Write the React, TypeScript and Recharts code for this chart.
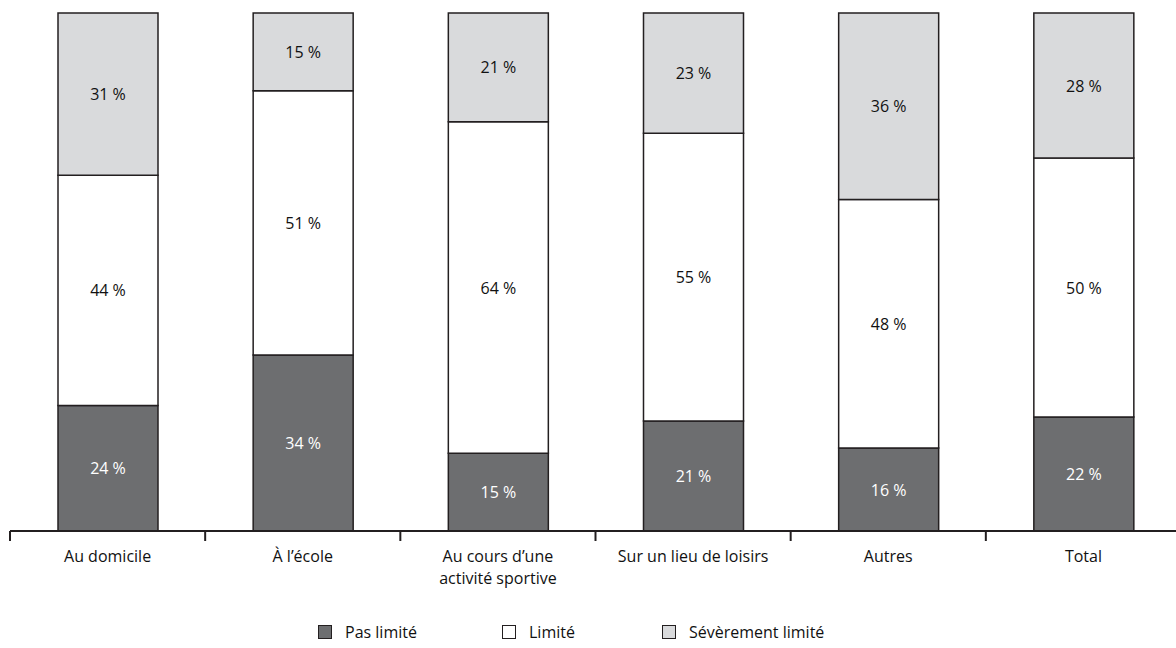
import { BarChart, Bar, XAxis, YAxis, Legend, Text } from "recharts";

const categories = [
  "Au domicile",
  "À l’école",
  "Au cours d’une activité sportive",
  "Sur un lieu de loisirs",
  "Autres",
  "Total",
];
const pasLimite = [24, 34, 15, 21, 16, 22];
const limite = [44, 51, 64, 55, 48, 50];
const severementLimite = [31, 15, 21, 23, 36, 28];

const FONT = "'Open Sans', sans-serif";
const DARK = "#6d6e70";
const LIGHT = "#d9dadc";
const EDGE = "#231f20";

const data = categories.map((name, i) => ({
  name,
  pas: pasLimite[i],
  lim: limite[i],
  sev: severementLimite[i],
}));

const seriesDefs = [
  { key: "pas", label: "Pas limité", fill: DARK, text: "#ffffff", values: pasLimite },
  { key: "lim", label: "Limité", fill: "#ffffff", text: "#111111", values: limite },
  { key: "sev", label: "Sévèrement limité", fill: LIGHT, text: "#111111", values: severementLimite },
];

function makeLabel(values: number[], color: string) {
  return (props: any) => {
    const { x, y, width, height, index } = props;
    return (
      <text
        x={x + width / 2}
        y={y + height / 2}
        textAnchor="middle"
        dominantBaseline="central"
        fill={color}
        fontFamily={FONT}
        fontSize={16}
      >
        {`${values[index]} %`}
      </text>
    );
  };
}

function CategoryTick(props: any) {
  const { x, y, payload, index } = props;
  const half = payload.offset || 97.6;
  const last = index === categories.length - 1;
  return (
    <g>
      <line x1={x - half} y1={y} x2={x - half} y2={y + 10} stroke={EDGE} strokeWidth={2} />
      {last && (
        <line x1={x + half} y1={y} x2={x + half} y2={y + 10} stroke={EDGE} strokeWidth={2} />
      )}
      <Text
        x={x}
        y={y + 20}
        width={140}
        textAnchor="middle"
        verticalAnchor="start"
        lineHeight={22}
        fill="#111"
        fontFamily={FONT}
        fontSize={16}
      >
        {payload.value}
      </Text>
    </g>
  );
}

function LegendContent() {
  const lefts = [318, 502, 662];
  return (
    <div style={{ position: "relative", height: 40, fontFamily: FONT, fontSize: 16, color: "#111" }}>
      {seriesDefs.map((s, i) => (
        <div
          key={s.key}
          style={{ position: "absolute", left: lefts[i], top: 13, display: "flex", alignItems: "center" }}
        >
          <span
            style={{
              display: "inline-block",
              width: 12,
              height: 12,
              background: s.fill,
              border: `1.5px solid ${EDGE}`,
              marginRight: 13,
            }}
          />
          <span>{s.label}</span>
        </div>
      ))}
    </div>
  );
}

export default function App() {
  return (
    <div
      style={{
        position: "absolute",
        top: 0,
        left: 0,
        width: 1176,
        height: 648,
        overflow: "hidden",
        background: "#fff",
      }}
    >
      <BarChart
        width={1181}
        height={648}
        data={data}
        stackOffset="expand"
        margin={{ top: 13, right: 0, left: 10, bottom: 0 }}
      >
        <XAxis
          dataKey="name"
          tickLine={false}
          tickSize={0}
          tickMargin={0}
          interval={0}
          height={77}
          axisLine={{ stroke: EDGE, strokeWidth: 2 }}
          tick={<CategoryTick />}
        />
        <YAxis hide domain={[0, 1]} />
        <Legend verticalAlign="bottom" height={40} content={<LegendContent />} wrapperStyle={{ left: 0, width: 1181 }} />
        {seriesDefs.map((s) => (
          <Bar
            key={s.key}
            dataKey={s.key}
            name={s.label}
            stackId="a"
            barSize={100}
            fill={s.fill}
            stroke={EDGE}
            strokeWidth={1.5}
            isAnimationActive={false}
            label={makeLabel(s.values, s.text)}
          />
        ))}
      </BarChart>
    </div>
  );
}
